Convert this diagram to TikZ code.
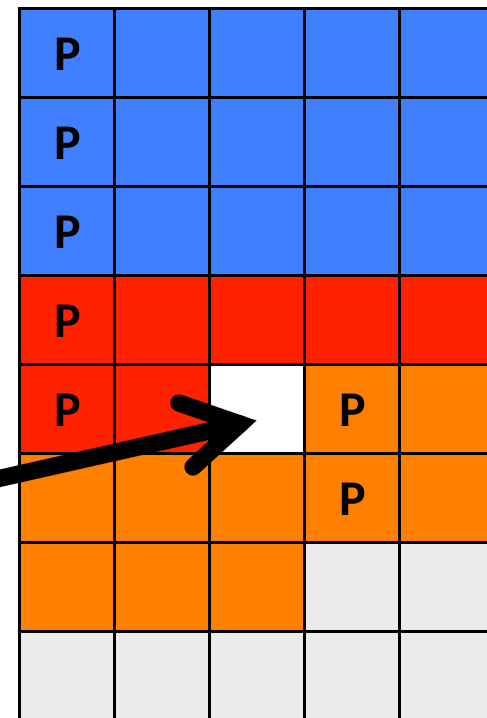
\documentclass[tikz,border=0pt]{standalone}
\usepackage{fontspec}
\setmainfont{Carlito}
\definecolor{cblue}{HTML}{4080FF}
\definecolor{cred}{HTML}{FF2200}
\definecolor{corange}{HTML}{FF8000}
\definecolor{cgray}{HTML}{EBEBEB}
\begin{document}
\begin{tikzpicture}[x=1pt,y=-1pt,
  gridline/.style={draw=black,line width=3pt},
  plabel/.style={font=\bfseries\fontsize{50}{50}\selectfont,inner sep=0pt,text=black},
  arrowline/.style={draw=black,line width=17pt,line cap=round,line join=miter},
  shadowline/.style={draw=black,opacity=0.25,line width=18pt,line cap=round,line join=miter}]
\useasboundingbox (0,0) rectangle (487,718);
\begin{scope}
\clip (0,0) rectangle (487,718);
% fills
\fill[cblue] (19,8) rectangle (494,275);
\fill[cred] (19,275) rectangle (494,364);
\fill[cred] (19,364) rectangle (209,453);
\fill[white] (209,364) rectangle (304,453);
\fill[corange] (304,364) rectangle (494,453);
\fill[corange] (19,453) rectangle (494,542);
\fill[corange] (19,542) rectangle (304,631);
\fill[cgray] (304,542) rectangle (494,631);
\fill[cgray] (19,631) rectangle (494,722);
% grid
\foreach \x in {19,114,209,304,399}
  \draw[gridline] (\x,6.5) -- (\x,722);
\foreach \y in {8,97,186,275,364,453,542,631}
  \draw[gridline] (17.5,\y) -- (494,\y);
% labels
\foreach \j in {0,...,4}
  \node[plabel] (p\j) at (68,{54+89*\j}) {P};
\node[plabel] (p5) at (352.5,410) {P};
\node[plabel] (p6) at (352.5,499) {P};
% arrow
\coordinate (tail) at (-12,481);
\coordinate (tip) at (240,424);
\coordinate (h1) at (179,403);
\coordinate (h2) at (193,467);
\begin{scope}[shift={(2,3)}]
\draw[shadowline] (tail) -- (tip);
\draw[shadowline] (h1) -- (tip) -- (h2);
\end{scope}
\draw[arrowline] (tail) -- (tip);
\draw[arrowline] (h1) -- (tip) -- (h2);
\end{scope}
\end{tikzpicture}
\end{document}
